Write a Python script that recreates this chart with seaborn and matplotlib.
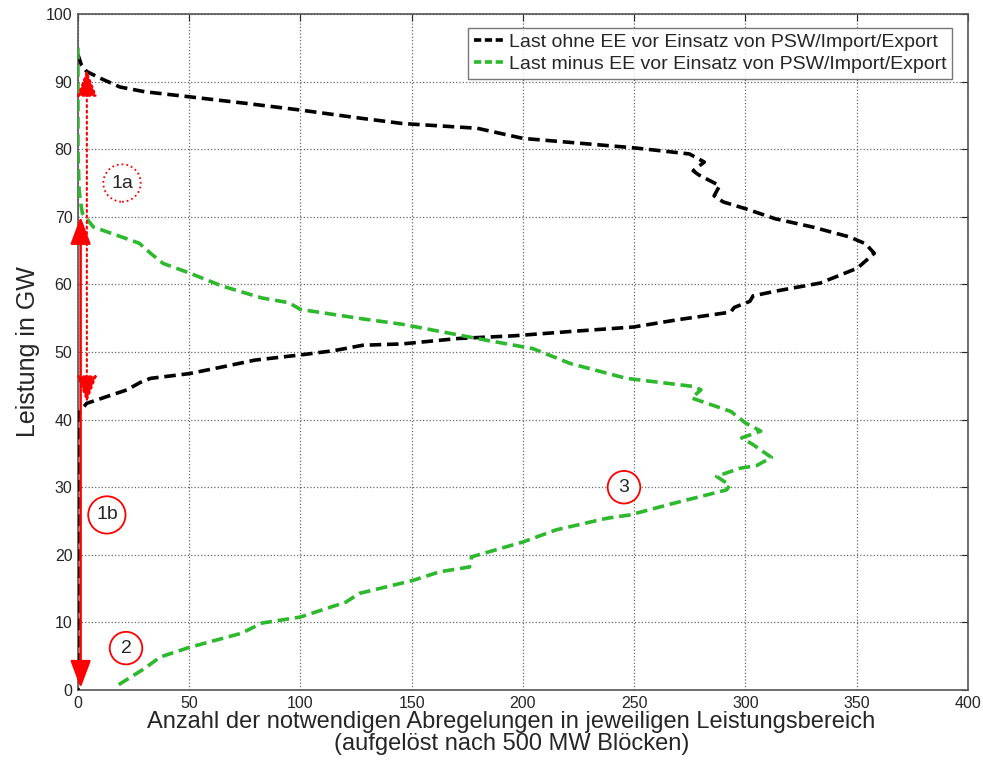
import numpy as np
import pandas as pd
import matplotlib
matplotlib.use("Agg")
import matplotlib.pyplot as plt
import seaborn as sns

# Last ohne EE (x = Anzahl, y = Leistung in GW)
black_x = [0, 1.5, 3.9, 10, 18.9, 30, 48.8, 75, 99.8, 126.7, 145.8, 179.4, 200, 250,
           274.8, 281.5, 276.5, 279, 288.4, 285.9, 290, 300, 313.5, 330, 347, 354, 357.9,
           350.3, 333.6, 313.5, 303.4, 302, 295, 293.3, 270, 249.7, 220, 196.1, 171,
           145.8, 128, 115, 100.8, 79.5, 65, 50, 32.6, 28, 22, 12, 3.9, 0.9, 0, 0]
black_y = [94, 92.5, 91.5, 90.5, 89.2, 88.5, 87.8, 86.8, 85.8, 84.6, 83.8, 83.1, 81.6, 80.2,
           79.3, 78.1, 76.8, 76.2, 74.6, 73.1, 72.2, 71.2, 69.7, 68.5, 67, 66, 64.6,
           62.4, 60.2, 59, 58.3, 57.5, 56.6, 55.9, 54.8, 53.7, 53.0, 52.4, 52.0,
           51.2, 51, 50.2, 49.6, 48.8, 47.8, 46.8, 46.1, 45.5, 44.4, 43.3, 42.4, 41.2, 40, 0]

# Last minus EE
green_x = [0, 0, 0.5, 1, 2, 6.9, 18.9, 27.5, 33, 38.3, 50, 64.4, 82.6, 94.7, 100, 128,
           145.8, 179.4, 204.5, 221.3, 246.5, 276.7, 280, 275.8, 293.5, 300, 306.9, 298.3,
           303.4, 311.7, 305, 297.5, 287, 293, 291.5, 267.5, 248, 237.6, 215, 200, 176.9,
           176, 162.7, 150.4, 126.5, 120.4, 100, 82.6, 73.5, 50, 37.1, 29.5, 17.4]
green_y = [95, 80, 74, 72.5, 70.5, 68.5, 67.1, 66.1, 64.5, 63.1, 61.7, 59.8, 58, 57.3, 56.3, 54.9,
           54.1, 52, 50.5, 48.3, 46.1, 44.9, 44.4, 43.2, 41.2, 39.5, 38.3, 37.3,
           36.3, 34.4, 33.2, 32.8, 31.6, 30.3, 29.6, 27.6, 25.9, 25.4, 23.7, 21.9, 19.7,
           18.2, 17.5, 16.2, 14.3, 13, 10.8, 9.9, 8.4, 6.3, 4.9, 3.1, 0.6]

labels = ["Last ohne EE vor Einsatz von PSW/Import/Export",
          "Last minus EE vor Einsatz von PSW/Import/Export"]

sns.set_style("white")
plt.rcParams['font.family'] = ['Liberation Sans', 'DejaVu Sans']

df = pd.concat([
    pd.DataFrame({"x": black_x, "y": black_y, "serie": labels[0]}),
    pd.DataFrame({"x": green_x, "y": green_y, "serie": labels[1]}),
], ignore_index=True)

fig = plt.figure(figsize=(9.83, 7.69), dpi=100)
ax = fig.add_axes([0.0793, 0.1027, 0.9054, 0.8791])

sns.lineplot(data=df, x="x", y="y", hue="serie", estimator=None, sort=False,
             palette=["black", "#2db82d"], linewidth=2.6, ax=ax)
for line in ax.get_lines():
    line.set_dashes((3.2, 1.6))
    line.set_zorder(3)

ax.set_xlim(0, 400)
ax.set_ylim(0, 100)
ax.set_xticks(np.arange(0, 401, 50))
ax.set_yticks(np.arange(0, 101, 10))
ax.grid(True, color="#444444", linestyle=":", linewidth=0.9, alpha=0.8)
ax.tick_params(direction="in", top=True, right=True, length=5, labelsize=11.5, pad=4)
for s in ax.spines.values():
    s.set_color("#555555")
    s.set_linewidth(1.2)

ax.set_xlabel("Anzahl der notwendigen Abregelungen in jeweiligen Leistungsbereich\n(aufgelöst nach 500 MW Blöcken)",
              fontsize=17, linespacing=1.0, labelpad=0)
ax.xaxis.set_label_coords(0.487, -0.031, transform=ax.transAxes)
ax.xaxis.label.set_va("top")
ax.set_ylabel("Leistung in GW", fontsize=18, labelpad=4)

# Legend
handles, _ = ax.get_legend_handles_labels()
for h in handles:
    h.set_dashes((2.0, 1.0))
leg = ax.legend(handles, labels, loc="upper right", fontsize=14, handlelength=1.6,
                handletextpad=0.2, frameon=True, fancybox=False, borderpad=0.3,
                labelspacing=0.2, bbox_to_anchor=(0.993, 0.994))
leg.get_frame().set_edgecolor("#555555")
leg.get_frame().set_linewidth(1.0)

# Arrows
ax.annotate("", xy=(4, 91.8), xytext=(4, 42.5),
            arrowprops=dict(arrowstyle="<|-|>,head_length=1.2,head_width=0.45", color="red",
                            lw=1.5, linestyle=":", shrinkA=0, shrinkB=0, mutation_scale=14), zorder=4)
ax.annotate("", xy=(1.2, 70), xytext=(1.2, 0.3),
            arrowprops=dict(arrowstyle="<|-|>,head_length=1.2,head_width=0.45", color="red",
                            lw=1.8, shrinkA=0, shrinkB=0, mutation_scale=14), zorder=4)

# Circled labels
circles = [("1a", 19.8, 75, ":"), ("1b", 13, 25.9, "-"), ("2", 21.6, 6.2, "-"), ("3", 245.4, 30, "-")]
for txt, cx, cy, ls in circles:
    ax.text(cx, cy, txt, fontsize=14, ha="center", va="center", zorder=5,
            bbox=dict(boxstyle="circle,pad=0.4", fc="white", ec="red", lw=1.3, ls=ls))

fig.savefig("out.png", dpi=100)
